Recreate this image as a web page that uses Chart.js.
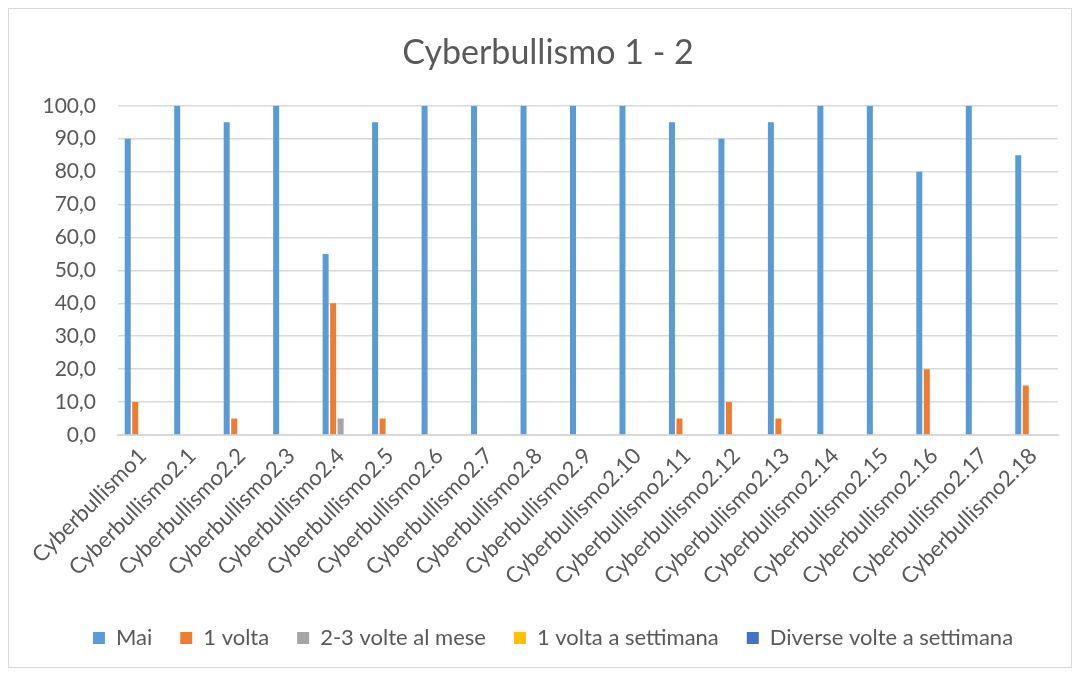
<!DOCTYPE html>
<html>
<head>
<meta charset="utf-8">
<script src="https://cdn.jsdelivr.net/npm/chart.js@4"></script>
<style>
html,body{margin:0;padding:0;background:#fff;}
#c{position:absolute;left:0;top:0;display:block;}
#frame{position:absolute;left:8px;top:8px;width:1062px;height:658px;border:1px solid #d9d9d9;pointer-events:none;}
</style>
</head>
<body>
<canvas id="c" width="1079" height="675"></canvas>
<div id="frame"></div>
<script>
const categories = ["Cyberbullismo1","Cyberbullismo2.1","Cyberbullismo2.2","Cyberbullismo2.3","Cyberbullismo2.4","Cyberbullismo2.5","Cyberbullismo2.6","Cyberbullismo2.7","Cyberbullismo2.8","Cyberbullismo2.9","Cyberbullismo2.10","Cyberbullismo2.11","Cyberbullismo2.12","Cyberbullismo2.13","Cyberbullismo2.14","Cyberbullismo2.15","Cyberbullismo2.16","Cyberbullismo2.17","Cyberbullismo2.18"];
const seriesNames = ["Mai","1 volta","2-3 volte al mese","1 volta a settimana","Diverse volte a settimana"];
const mai = [90,100,95,100,55,95,100,100,100,100,100,95,90,95,100,100,80,100,85];
const unaVolta = [10,0,5,0,40,5,0,0,0,0,0,5,10,5,0,0,20,0,15];
const dueTreVolte = [0,0,0,0,5,0,0,0,0,0,0,0,0,0,0,0,0,0,0];
const unaSettimana = [0,0,0,0,0,0,0,0,0,0,0,0,0,0,0,0,0,0,0];
const diverseVolte = [0,0,0,0,0,0,0,0,0,0,0,0,0,0,0,0,0,0,0];
const yTicks = [0,10,20,30,40,50,60,70,80,90,100];
const colors = ["#5b9bd5","#ed7d31","#a5a5a5","#ffc000","#4472c4"];
const allSeries = [mai, unaVolta, dueTreVolte, unaSettimana, diverseVolte];

const shiftPlugin = {
  id: 'shift',
  afterLayout(chart) {
    if (chart.legend) { chart.legend.left += 14; chart.legend.right += 14; }
    if (chart.titleBlock) { chart.titleBlock.left += 9; chart.titleBlock.right += 9; }
  }
};

const font = "Lato, 'Open Sans', sans-serif";
new Chart(document.getElementById('c'), {
  type: 'bar',
  data: {
    labels: categories,
    datasets: allSeries.map((d,i)=>({
      label: seriesNames[i], data: d, backgroundColor: colors[i],
      borderWidth: 0, barPercentage: 0.8, categoryPercentage: 0.758
    }))
  },
  plugins: [shiftPlugin],
  options: {
    responsive: false, animation: false,
    layout: {padding: {left: 20, right: 21, top: 0, bottom: 16}},
    plugins: {
      title: {display: true, text: "Cyberbullismo 1 - 2", color: "#595959",
        font: {family: font, size: 34, weight: 'normal'}, padding: {top: 33, bottom: 32}},
      legend: {position: 'bottom', labels: {color: "#595959", boxWidth: 12, boxHeight: 12,
        font: {family: font, size: 22}, padding: 28}},
      tooltip: {enabled: false}
    },
    scales: {
      x: {grid: {display: false, drawTicks: false}, border: {color: "#d9d9d9", width: 2},
        afterFit: s => { s.height = 164; },
        ticks: {color: "#595959", minRotation: 45, maxRotation: 45, autoSkip: false, padding: 8,
          font: {family: font, size: 22}}},
      y: {min: 0, max: 100, grid: {color: "#d9d9d9", lineWidth: 1.5, drawTicks: false}, border: {display: false},
        afterFit: s => { s.width = 98; },
        afterBuildTicks: s => { s.ticks = yTicks.map(v => ({value: v})); },
        ticks: {color: "#595959", font: {family: font, size: 21}, padding: 22,
          callback: v => v.toFixed(1).replace('.', ',')}}
    }
  }
});
</script>
</body>
</html>
